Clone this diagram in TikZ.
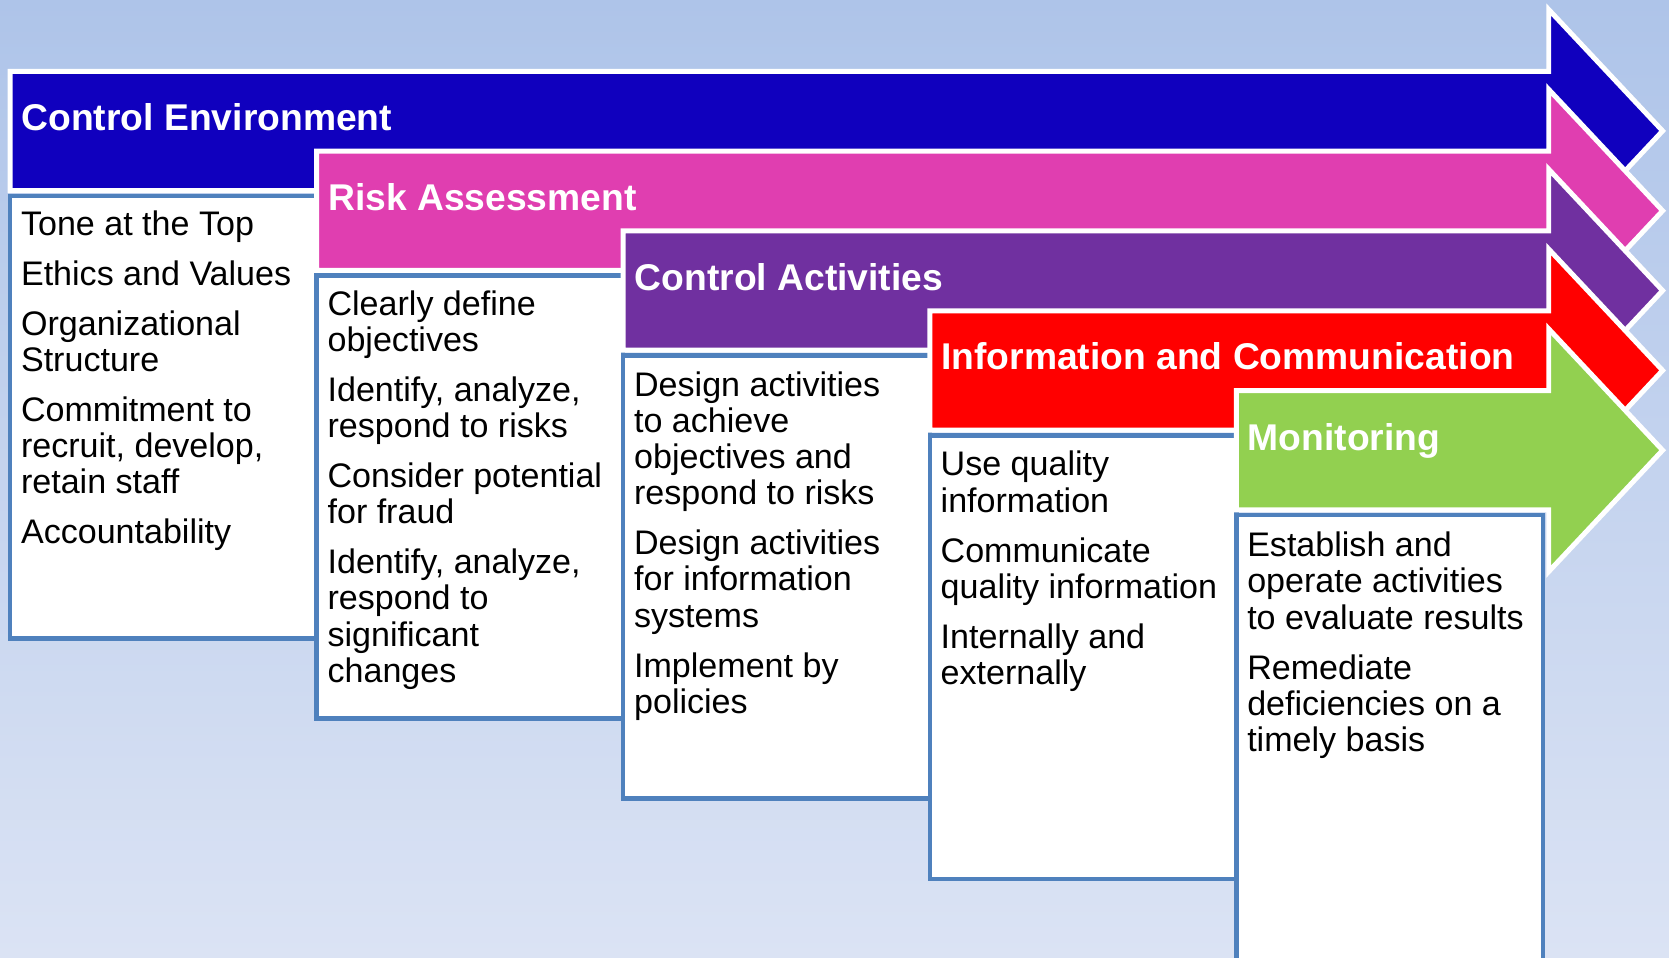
\documentclass[tikz,border=0pt]{standalone}
\usepackage{fontspec}
\setmainfont{Liberation Sans}
\usepackage{xcolor}

\definecolor{ceBlue}{RGB}{16,0,190}
\definecolor{raPink}{RGB}{224,62,176}
\definecolor{caPurple}{RGB}{112,48,160}
\definecolor{icRed}{RGB}{255,0,0}
\definecolor{moGreen}{RGB}{146,208,80}
\definecolor{boxLine}{RGB}{79,129,189}
\definecolor{bgTop}{RGB}{174,196,233}
\definecolor{bgBottom}{RGB}{219,227,244}

\tikzset{
  band/.style={draw=white, line width=3.5pt, miter limit=10},
  itembox/.style={draw=boxLine, fill=white, line width=3.2pt},
  bandtitle/.style={anchor=base west, inner sep=0pt, text=white, font=\fontsize{26.25}{28}\selectfont\bfseries},
  itemtext/.style={anchor=north west, inner sep=0pt, align=left, font=\fontsize{24}{25.5}\selectfont}
}

\begin{document}
\begin{tikzpicture}[x=0.75pt,y=0.75pt,yscale=-1,xscale=1]
        %set diagram area 1568 x 900
        \useasboundingbox (0,0) rectangle (1568,900);
        %Shape: Background
        \shade[top color=bgTop, bottom color=bgBottom] (0,0) rectangle (1568,900);

        %Shape: Arrow [Control Environment]
        \draw[band, fill=ceBlue] (9.5,67) -- (1455,67) -- (1455,9) -- (1562,123) -- (1455,237) -- (1455,179) -- (9.5,179) -- cycle;
        %Shape: Rectangle
        \draw[itembox] (9.5,184) rectangle (297.5,600);
        % Text Node
        \draw (20,122.5) node [bandtitle] (ce-title) {Control Environment};
        % Text Node
        \draw (19.5,197) node [itemtext] (ce-items) {\strut Tone at the Top\\[9.75pt] Ethics and Values\\[9.75pt] Organizational\\ Structure\\[9.75pt] Commitment to\\ recruit, develop,\\ retain staff\\[9.75pt] Accountability};

        %Shape: Arrow [Risk Assessment]
        \draw[band, fill=raPink] (297.5,142) -- (1455,142) -- (1455,84) -- (1562,198) -- (1455,312) -- (1455,254) -- (297.5,254) -- cycle;
        %Shape: Rectangle
        \draw[itembox] (297.5,259) rectangle (585.5,675);
        % Text Node
        \draw (308,197.5) node [bandtitle] (ra-title) {Risk Assessment};
        % Text Node
        \draw (307.5,272) node [itemtext] (ra-items) {\strut Clearly define\\ objectives\\[9.75pt] Identify, analyze,\\ respond to risks\\[9.75pt] Consider potential\\ for fraud\\[9.75pt] Identify, analyze,\\ respond to\\ significant\\ changes};

        %Shape: Arrow [Control Activities]
        \draw[band, fill=caPurple] (585.5,217) -- (1455,217) -- (1455,159) -- (1562,273) -- (1455,387) -- (1455,329) -- (585.5,329) -- cycle;
        %Shape: Rectangle
        \draw[itembox] (585.5,334) rectangle (873.5,750);
        % Text Node
        \draw (596,272.5) node [bandtitle] (ca-title) {Control Activities};
        % Text Node
        \draw (595.5,348) node [itemtext] (ca-items) {\strut Design activities\\ to achieve\\ objectives and\\ respond to risks\\[9.75pt] Design activities\\ for information\\ systems\\[9.75pt] Implement by\\ policies};

        %Shape: Arrow [Information and Communication]
        \draw[band, fill=icRed] (873.5,292) -- (1455,292) -- (1455,234) -- (1562,348) -- (1455,462) -- (1455,404) -- (873.5,404) -- cycle;
        %Shape: Rectangle
        \draw[itembox] (873.5,409) rectangle (1161.5,826);
        % Text Node
        \draw (884,347.5) node [bandtitle] (ic-title) {Information and Communication};
        % Text Node
        \draw (883.5,423) node [itemtext] (ic-items) {\strut Use quality\\ information\\[9.75pt] Communicate\\ quality information\\[9.75pt] Internally and\\ externally};

        %Shape: Arrow [Monitoring]
        \draw[band, fill=moGreen] (1161.5,367) -- (1455,367) -- (1455,309) -- (1562,423) -- (1455,537) -- (1455,479) -- (1161.5,479) -- cycle;
        %Shape: Rectangle
        \draw[itembox] (1161.5,484) rectangle (1449.5,910);
        % Text Node
        \draw (1172,423.5) node [bandtitle] (mo-title) {Monitoring};
        % Text Node
        \draw (1171.5,499) node [itemtext] (mo-items) {\strut Establish and\\ operate activities\\ to evaluate results\\[9.75pt] Remediate\\ deficiencies on a\\ timely basis};

\end{tikzpicture}
\end{document}
